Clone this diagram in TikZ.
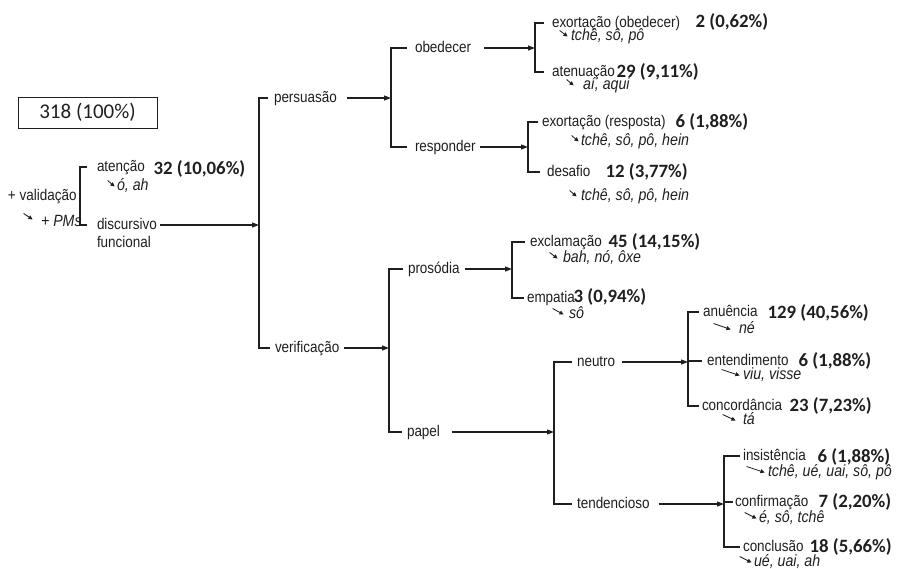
\documentclass[tikz,border=0pt]{standalone}
\usepackage{fontspec}
\setmainfont{Liberation Sans}[FakeStretch=0.87]
\newfontfamily\calib{Carlito}
\usetikzlibrary{arrows.meta}
\definecolor{ink}{gray}{0.12}
% small inline arrow placed before each list of markers
\newcommand{\seta}[1]{\tikz[baseline=0pt]\draw[ink,line width=0.85pt,-{Triangle[length=4.2pt,width=4pt]}] (0pt,9.5pt) -- (#1pt,3.5pt);}
\begin{document}
\begin{tikzpicture}[x=1pt,y=-1pt,ink,line width=1.2pt,
  lab/.style={font=\fontsize{15.5}{18}\selectfont,inner sep=0pt,outer sep=0pt,text height=11pt,text depth=3pt,anchor=west},
  exe/.style={font=\fontsize{16.3}{18}\selectfont\itshape,inner sep=0pt,anchor=base west},
  cnt/.style={font=\calib\bfseries\fontsize{18.8}{22}\selectfont,inner sep=0pt,anchor=base west},
  totbox/.style={draw,line width=1pt,font=\calib\fontsize{21}{24}\selectfont,minimum width=139pt,minimum height=31pt,inner sep=0pt},
  arr/.style={-{Triangle[length=7pt,width=5pt]}}]
\useasboundingbox (0,0) rectangle (900,568);

% bracket positions
\coordinate (b0) at (80,0);
\coordinate (b1) at (259,0);
\coordinate (b2) at (391,0);
\coordinate (b3) at (535,0);
\coordinate (b4) at (528,0);
\coordinate (b5) at (389,0);
\coordinate (b6) at (512,0);
\coordinate (b7) at (554,0);
\coordinate (b8) at (688,0);
\coordinate (b9) at (724,0);

% total
\node[totbox] (total) at (87.5,112.5) {318 (100\%)};

% left group
\node[lab] (val) at (8,196) {+ validação};
\node[exe] (pms) at (23,226) {\raisebox{3pt}{\seta{9}}\hspace{8pt}+ PMs};
\node[lab] (aten) at (97,167) {atenção};
\node[cnt] (atenN) at (153,174) {32 (10,06\%)};
\node[exe] (atenE) at (107,190) {\seta{7}\hspace{2pt}ó, ah};
\node[lab] (disc) at (97,225) {discursivo};
\node[lab] (func) at (97,243) {funcional};
\draw ([xshift=-10pt]aten.west) -- (b0 |- aten.west) -- (b0 |- disc.west) -- ([xshift=-10pt]disc.west);
\draw[arr] ([xshift=3pt]disc.east) -- (b1 |- disc.east);

% persuasao / verificacao
\node[lab] (pers) at (274,98) {persuasão};
\node[lab] (verif) at (275,348) {verificação};
\draw ([xshift=-6pt]pers.west) -- (b1 |- pers.west) -- (b1 |- verif.west) -- ([xshift=-5pt]verif.west);

% persuasao branch
\draw[arr] ([xshift=10pt]pers.east) -- (b2 |- pers.east);
\node[lab] (obed) at (415,48) {obedecer};
\node[lab] (resp) at (415,147) {responder};
\draw ([xshift=-8pt]obed.west) -- (b2 |- obed.west) -- (b2 |- resp.west) -- ([xshift=-8pt]resp.west);

\draw[arr] ([xshift=13pt]obed.east) -- (b3 |- obed.east);
\node[lab] (exob) at (552,23) {exortação (obedecer)};
\node[cnt] (exobN) at (695,27) {2 (0,62\%)};
\node[exe] (exobE) at (559,40) {\seta{8}\hspace{3pt}tchê, sô, pô};
\node[lab] (atenu) at (552,72) {atenuação};
\node[cnt] (atenuN) at (616,77) {29 (9,11\%)};
\node[exe] (atenuE) at (566,89) {\seta{7}\hspace{9pt}aí, aqui};
\draw ([xshift=-8pt]exob.west) -- (b3 |- exob.west) -- (b3 |- atenu.west) -- ([xshift=-8pt]atenu.west);

\draw[arr] ([xshift=4pt]resp.east) -- (b4 |- resp.east);
\node[lab] (exre) at (542,122) {exortação (resposta)};
\node[cnt] (exreN) at (675,127) {6 (1,88\%)};
\node[exe] (exreE) at (571,145) {\seta{7}\hspace{2pt}tchê, sô, pô, hein};
\node[lab] (desaf) at (547,172) {desafio};
\node[cnt] (desafN) at (605,177) {12 (3,77\%)};
\node[exe] (desafE) at (569,200) {\seta{7}\hspace{4pt}tchê, sô, pô, hein};
\draw ([xshift=-4pt]exre.west) -- (b4 |- exre.west) -- (b4 |- desaf.west) -- ([xshift=-7pt]desaf.west);

% verificacao branch
\draw[arr] ([xshift=5pt]verif.east) -- (b5 |- verif.east);
\node[lab] (pros) at (408,269) {prosódia};
\node[lab] (papel) at (407,432) {papel};
\draw ([xshift=-5pt]pros.west) -- (b5 |- pros.west) -- (b5 |- papel.west) -- ([xshift=-5pt]papel.west);

\draw[arr] ([xshift=5pt]pros.east) -- (b6 |- pros.east);
\node[lab] (excl) at (530,242) {exclamação};
\node[cnt] (exclN) at (608,247) {45 (14,15\%)};
\node[exe] (exclE) at (549,262) {\seta{8}\hspace{5pt}bah, nó, ôxe};
\node[lab] (empat) at (527,298) {empatia};
\node[cnt] (empatN) at (573,302) {3 (0,94\%)};
\node[exe] (empatE) at (552,318) {\seta{11}\hspace{5pt}sô};
\draw ([xshift=-5pt]excl.west) -- (b6 |- excl.west) -- (b6 |- empat.west) -- ([xshift=-3pt]empat.west);

\draw[arr] ([xshift=12pt]papel.east) -- (b7 |- papel.east);
\node[lab] (neut) at (577,362) {neutro};
\node[lab] (tend) at (577,504) {tendencioso};
\draw ([xshift=-5pt]neut.west) -- (b7 |- neut.west) -- (b7 |- tend.west) -- ([xshift=-5pt]tend.west);

\draw[arr] ([xshift=7pt]neut.east) -- (b8 |- neut.east);
\node[lab] (anu) at (703,312) {anuência};
\node[cnt] (anuN) at (767,318) {129 (40,56\%)};
\node[exe] (anuE) at (713,333) {\seta{17}\hspace{8pt}né};
\node[lab] (ent) at (707,361) {entendimento};
\node[cnt] (entN) at (798,366) {6 (1,88\%)};
\node[exe] (entE) at (721,379) {\seta{18}\hspace{3pt}viu, visse};
\node[lab] (conc) at (702,406) {concordância};
\node[cnt] (concN) at (789,411) {23 (7,23\%)};
\node[exe] (concE) at (722,424) {\seta{13}\hspace{7pt}tá};
\draw ([xshift=-4pt]anu.west) -- (b8 |- anu.west) -- (b8 |- conc.west) -- ([xshift=-3pt]conc.west);
\draw (b8 |- ent.west) -- ([xshift=-5pt]ent.west);

\draw[arr] ([xshift=9pt]tend.east) -- (b9 |- tend.east);
\node[lab] (ins) at (743,456) {insistência};
\node[cnt] (insN) at (817,462) {6 (1,88\%)};
\node[exe] (insE) at (746,476) {\seta{18}\hspace{3pt}tchê, ué, uai, sô, pô};
\node[lab] (conf) at (735,502) {confirmação};
\node[cnt] (confN) at (818,507) {7 (2,20\%)};
\node[exe] (confE) at (744,522) {\seta{12}\hspace{2pt}é, sô, tchê};
\node[lab] (concl) at (743,547) {conclusão};
\node[cnt] (conclN) at (809,552) {18 (5,66\%)};
\node[exe] (conclE) at (739,566) {\seta{12}\hspace{2pt}ué, uai, ah};
\draw ([xshift=-3pt]ins.west) -- (b9 |- ins.west) -- (b9 |- concl.west) -- ([xshift=-3pt]concl.west);
\draw (b9 |- conf.west) -- ([xshift=-2pt]conf.west);
\end{tikzpicture}
\end{document}
